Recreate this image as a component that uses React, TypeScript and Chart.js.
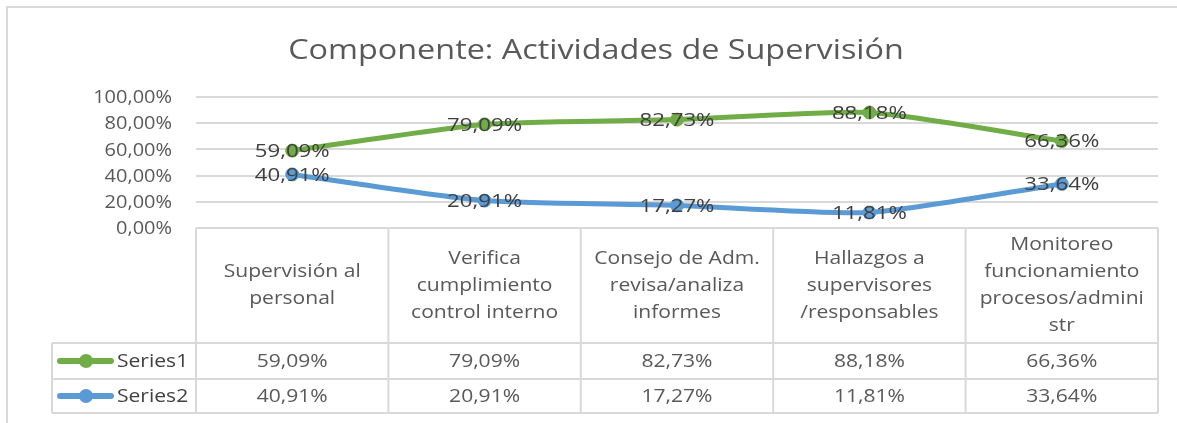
import React, { useEffect, useRef } from 'react';
import { Chart, registerables } from 'chart.js';
Chart.register(...registerables);

const chartTitle = 'Componente: Actividades de Supervisión';
const categories: string[][] = [
  ['Supervisión al', 'personal'],
  ['Verifica', 'cumplimiento', 'control interno'],
  ['Consejo de Adm.', 'revisa/analiza', 'informes'],
  ['Hallazgos a', 'supervisores', '/responsables'],
  ['Monitoreo', 'funcionamiento', 'procesos/admini', 'str'],
];
const seriesNames = ['Series1', 'Series2'];
const series1 = [59.09, 79.09, 82.73, 88.18, 66.36];
const series2 = [40.91, 20.91, 17.27, 11.81, 33.64];
const seriesColors = ['#70AD47', '#5B9BD5'];
const yTickValues = [0, 20, 40, 60, 80, 100];

const FONT = '"Open Sans", sans-serif';
const fmt = (v: number) => v.toFixed(2).replace('.', ',') + '%';

function drawText(
  ctx: CanvasRenderingContext2D,
  text: string,
  x: number,
  y: number,
  sx: number,
  align: CanvasTextAlign,
) {
  ctx.save();
  ctx.translate(x, y);
  ctx.scale(sx, 1);
  ctx.textAlign = align;
  ctx.fillText(text, 0, 0);
  ctx.restore();
}

const overlay = {
  id: 'overlay',
  afterDatasetsDraw(chart: any) {
    const ctx = chart.ctx as CanvasRenderingContext2D;
    ctx.save();
    ctx.fillStyle = '#404040';
    ctx.font = `19px ${FONT}`;
    ctx.textBaseline = 'middle';
    chart.data.datasets.forEach((ds: any, di: number) => {
      const meta = chart.getDatasetMeta(di);
      meta.data.forEach((pt: any, i: number) => {
        drawText(ctx, fmt(ds.data[i]), pt.x, pt.y + 1, 1.17, 'center');
      });
    });
    ctx.restore();
  },
  afterDraw(chart: any) {
    const ctx = chart.ctx as CanvasRenderingContext2D;
    const area = chart.chartArea;
    const xs = chart.scales.x;
    const ys = chart.scales.y;
    const n = categories.length;
    ctx.save();
    // frame
    ctx.strokeStyle = '#d9d9d9';
    ctx.lineWidth = 2;
    ctx.beginPath();
    ctx.moveTo(7, chart.height);
    ctx.lineTo(7, 7);
    ctx.lineTo(chart.width, 7);
    ctx.stroke();
    // title
    ctx.fillStyle = '#595959';
    ctx.font = `28px ${FONT}`;
    ctx.textBaseline = 'alphabetic';
    drawText(ctx, chartTitle, 596, 59, 1.156, 'center');

    // y tick labels
    ctx.font = `18px ${FONT}`;
    ctx.textBaseline = 'middle';
    ctx.fillStyle = '#595959';
    yTickValues.forEach((v) => {
      drawText(ctx, fmt(v), area.left - 24, ys.getPixelForValue(v) + 1, 1.11, 'right');
    });

    // table
    const top = area.bottom;
    const headBottom = 343;
    const row1 = 379;
    const row2 = 413;
    const legLeft = 52;
    const bounds: number[] = [area.left];
    for (let i = 1; i < n; i++) {
      bounds.push((xs.getPixelForValue(i - 1) + xs.getPixelForValue(i)) / 2);
    }
    bounds.push(area.right);
    ctx.strokeStyle = '#d9d9d9';
    ctx.lineWidth = 2;
    ctx.beginPath();
    ctx.moveTo(area.left, top);
    ctx.lineTo(area.right, top);
    [headBottom, row1, row2].forEach((y) => {
      ctx.moveTo(legLeft, y);
      ctx.lineTo(area.right, y);
    });
    bounds.forEach((x) => {
      ctx.moveTo(x, top);
      ctx.lineTo(x, row2);
    });
    ctx.moveTo(legLeft, headBottom);
    ctx.lineTo(legLeft, row2);
    ctx.stroke();

    ctx.fillStyle = '#595959';
    ctx.font = `18px ${FONT}`;
    ctx.textBaseline = 'middle';
    const SX = 1.17;
    const lh = 27;
    const hc = (top + headBottom) / 2;
    categories.forEach((lines, i) => {
      const cx = xs.getPixelForValue(i);
      const y0 = hc - ((lines.length - 1) * lh) / 2;
      lines.forEach((t, k) => drawText(ctx, t, cx, y0 + k * lh, SX, 'center'));
    });
    const rowC = [(headBottom + row1) / 2, (row1 + row2) / 2];
    chart.data.datasets.forEach((ds: any, di: number) => {
      const y = rowC[di];
      ctx.fillStyle = '#595959';
      ds.data.forEach((v: number, i: number) => {
        drawText(ctx, fmt(v), xs.getPixelForValue(i), y + 1, SX, 'center');
      });
      // legend key
      ctx.strokeStyle = seriesColors[di];
      ctx.lineWidth = 6;
      ctx.lineCap = 'round';
      ctx.beginPath();
      ctx.moveTo(60, y);
      ctx.lineTo(111, y);
      ctx.stroke();
      ctx.fillStyle = seriesColors[di];
      ctx.beginPath();
      ctx.arc(86, y, 7, 0, Math.PI * 2);
      ctx.fill();
      ctx.fillStyle = '#404040';
      drawText(ctx, seriesNames[di], 117, y + 1, SX, 'left');
    });
    ctx.restore();
  },
};

export default function App() {
  const ref = useRef<HTMLCanvasElement>(null);
  useEffect(() => {
    if (!ref.current) return;
    const mk = (i: number, data: number[]) => ({
      label: seriesNames[i],
      data,
      borderColor: seriesColors[i],
      backgroundColor: seriesColors[i],
      borderWidth: 5,
      pointRadius: 6.5,
      pointBorderWidth: 1,
      tension: 0.2,
    });
    const chart = new Chart(ref.current, {
      type: 'line',
      data: {
        labels: categories.map((c) => c.join(' ')),
        datasets: [mk(0, series1), mk(1, series2)],
      },
      options: {
        animation: false,
        responsive: true,
        maintainAspectRatio: false,
        layout: { padding: { left: 0, right: 19, top: 97, bottom: 195 } },
        plugins: { legend: { display: false }, title: { display: false }, tooltip: { enabled: false } },
        scales: {
          x: { type: 'category', display: false, offset: true },
          y: {
            min: 0,
            max: 100,
            afterBuildTicks: (s: any) => {
              s.ticks = yTickValues.map((v) => ({ value: v }));
            },
            afterFit: (s: any) => {
              s.width = 196;
            },
            border: { display: false },
            grid: { color: '#d9d9d9', lineWidth: 2, drawTicks: false },
            ticks: { display: false },
          },
        },
      },
      plugins: [overlay],
    });
    return () => chart.destroy();
  }, []);
  return (
    <div style={{ position: 'fixed', left: 0, top: 0, width: 1177, height: 423, background: '#fff' }}>
      <canvas ref={ref} />
    </div>
  );
}
